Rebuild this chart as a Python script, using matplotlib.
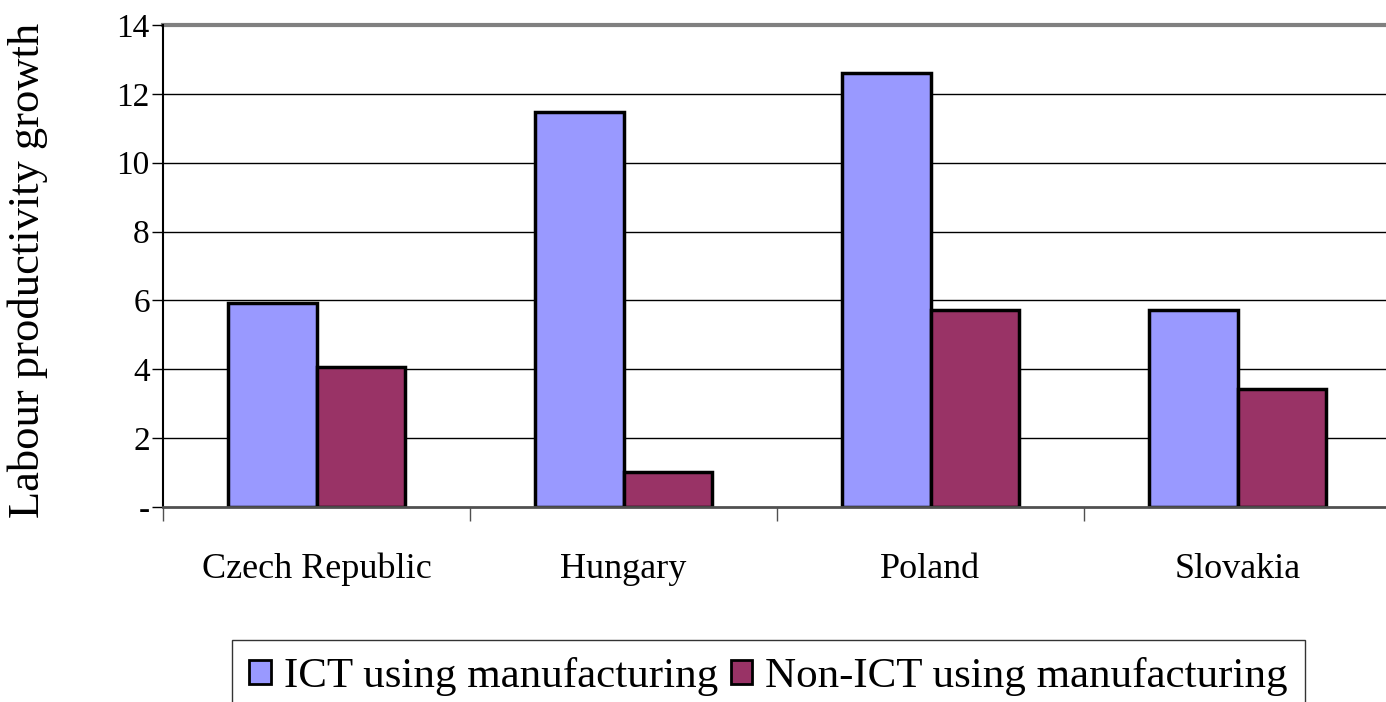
import numpy as np
import matplotlib.pyplot as plt

plt.rcParams['font.family'] = ['Liberation Serif', 'DejaVu Serif']

# data
countries = ['Czech Republic', 'Hungary', 'Poland', 'Slovakia']
ict = [5.92, 11.47, 12.6, 5.72]
non_ict = [4.07, 1.02, 5.72, 3.43]
series_names = ['ICT using manufacturing', 'Non-ICT using manufacturing']
yticks = [0, 2, 4, 6, 8, 10, 12, 14]
ytick_labels = ['-', '2', '4', '6', '8', '10', '12', '14']

fig = plt.figure(figsize=(13.86, 7.02), dpi=100)
ax = fig.add_axes([163 / 1386, 195 / 702, 1228 / 1386, 482 / 702])

x = np.arange(len(countries))
w = 0.287
b1 = ax.bar(x - w / 2, ict, w, color='#9999FF', edgecolor='black', linewidth=2.5, zorder=3)
b2 = ax.bar(x + w / 2, non_ict, w, color='#993366', edgecolor='black', linewidth=2.5, zorder=3)

ax.set_xlim(-0.5, len(countries) - 0.5)
ax.set_ylim(0, 14)

# gridlines
for t in yticks[1:-1]:
    ax.axhline(t, color='black', lw=1, zorder=1)
ax.axhline(14, color='#808080', lw=3, zorder=1, clip_on=False)

ax.spines['top'].set_visible(False)
ax.spines['right'].set_visible(False)
ax.spines['left'].set_linewidth(1.5)
ax.spines['bottom'].set_color('#505050')
ax.spines['bottom'].set_linewidth(2)
ax.spines['bottom'].set_zorder(4)

ax.set_yticks(yticks)
ax.set_yticklabels(ytick_labels, fontsize=24)
ax.tick_params(axis='y', direction='out', length=8, width=1, pad=1.5)

ax.set_xticks(x)
ax.set_xticklabels(countries, fontsize=26)
ax.tick_params(axis='x', which='major', length=0, pad=33)
ax.set_xticks(np.arange(-0.5, len(countries) - 0.4, 1), minor=True)
ax.tick_params(axis='x', which='minor', direction='out', length=10, width=1, color='#505050')

ax.set_ylabel('Labour productivity growth', fontsize=32)
ax.yaxis.set_label_coords(-0.094, 0.49)

leg = fig.legend([b1, b2], series_names, loc='upper left',
                 bbox_to_anchor=(232 / 1386, 1 - 640 / 702), ncol=2,
                 fontsize=31, frameon=True, fancybox=False, shadow=False,
                 handlelength=0.5, handleheight=0.5, handletextpad=0.3,
                 columnspacing=0.3, borderpad=0.4, borderaxespad=0)
leg.get_frame().set_edgecolor('black')
leg.get_frame().set_linewidth(1)
for h in leg.legend_handles:
    h.set_linewidth(2)

fig.savefig('out.png', dpi=100)
